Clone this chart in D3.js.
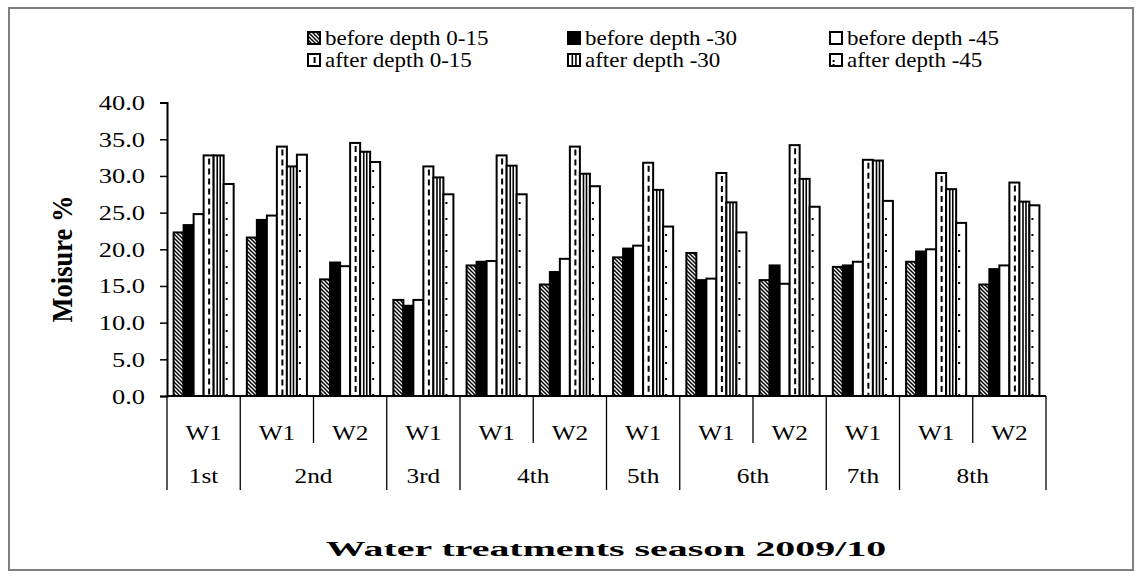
<!DOCTYPE html>
<html>
<head>
<meta charset="utf-8">
<script src="https://cdn.jsdelivr.net/npm/d3@7"></script>
<style>
  body { margin: 0; background: #fff; }
  text { font-family: "Liberation Serif", "Times New Roman", serif; fill: #000; }
</style>
</head>
<body>
<svg id="chart" width="1142" height="579"></svg>
<script>
// ---- data ----
const seasons = ["1st", "2nd", "3rd", "4th", "5th", "6th", "7th", "8th"];
const seasonTreatments = [["W1"], ["W1", "W2"], ["W1"], ["W1", "W2"], ["W1"], ["W1", "W2"], ["W1"], ["W1", "W2"]];
const seriesNames = ["before depth 0-15", "before depth -30", "before depth -45", "after depth 0-15", "after depth -30", "after depth -45"];
const beforeD15 = [22.3, 21.6, 15.9, 13.1, 17.8, 15.2, 18.9, 19.5, 15.8, 17.6, 18.3, 15.2];
const beforeD30 = [23.3, 24.0, 18.2, 12.3, 18.3, 16.9, 20.1, 15.8, 17.8, 17.8, 19.7, 17.3];
const beforeD45 = [24.8, 24.6, 17.7, 13.1, 18.4, 18.7, 20.5, 16.0, 15.3, 18.3, 20.0, 17.8];
const afterD15  = [32.8, 34.0, 34.5, 31.3, 32.8, 34.0, 31.8, 30.4, 34.2, 32.2, 30.4, 29.1];
const afterD30  = [32.8, 31.3, 33.3, 29.8, 31.4, 30.3, 28.1, 26.4, 29.6, 32.1, 28.2, 26.5];
const afterD45  = [28.9, 32.9, 31.9, 27.5, 27.5, 28.6, 23.1, 22.3, 25.8, 26.6, 23.6, 26.0];
const yTicks = [0, 5, 10, 15, 20, 25, 30, 35, 40];
const yTitle = "Moisure %";
const xTitle = "Water treatments season 2009/10";

const seriesValues = [beforeD15, beforeD30, beforeD45, afterD15, afterD30, afterD45];
const styles = ["hatch", "solid", "empty", "dash", "vstripe", "dots"];

// groups (season, treatment)
const groups = [];
seasons.forEach((s, si) => seasonTreatments[si].forEach(t => groups.push({season: s, si, treat: t})));
groups.forEach((g, i) => g.id = i);

// ---- layout ----
const svg = d3.select("#chart");
const pLeft = 167, pRight = 1046, pTop = 102.6, pBottom = 396;

const x0 = d3.scaleBand().domain(groups.map(g => g.id)).range([pLeft, pRight]).paddingInner(0.18).paddingOuter(0.09);
const x1 = d3.scaleBand().domain(d3.range(6)).range([0, x0.bandwidth()]);
const y = d3.scaleLinear().domain([0, 40]).range([pBottom, pTop]);

function stretchText(sel, xx, yy, str, opts) {
  const g = sel.append("g").attr("transform", `translate(${xx},${yy}) scale(${opts.sx || 1.15},1)`);
  const t = g.append("text")
    .attr("text-anchor", opts.anchor || "middle")
    .style("font-size", (opts.size || 20) + "px")
    .style("font-weight", opts.bold ? "bold" : "normal")
    .text(str);
  if (opts.fitWidth) {
    const w = t.node().getComputedTextLength();
    g.attr("transform", `translate(${xx},${yy}) scale(${opts.fitWidth / w},1)`);
  }
  return t;
}

// defs: hatch pattern
const defs = svg.append("defs");
const hp = defs.append("pattern").attr("id", "hatch").attr("patternUnits", "userSpaceOnUse")
  .attr("width", 4).attr("height", 4);
hp.append("rect").attr("width", 4).attr("height", 4).attr("fill", "#fff");
hp.append("path").attr("d", "M-1,-1 L5,5 M-1,3 L1,5 M3,-1 L5,1").attr("stroke", "#000").attr("stroke-width", 1.5);

// outer frame
svg.append("rect").attr("x", 9).attr("y", 8).attr("width", 1124).attr("height", 562)
  .attr("fill", "none").attr("stroke", "#7f7f7f").attr("stroke-width", 2);

// ---- bars ----
const barData = [];
groups.forEach((g, gi) => seriesValues.forEach((vals, si) => barData.push({gi, si, v: vals[gi]})));

function drawBar(sel, bx, by, bw, bh, style, dotPeriod) {
  const fill = style === "solid" ? "#000" : style === "hatch" ? "url(#hatch)" : "#fff";
  sel.append("rect").attr("x", bx).attr("y", by).attr("width", bw).attr("height", bh)
    .attr("fill", fill).attr("stroke", "none");
  if (style === "dash") {
    sel.append("line").attr("x1", bx + bw * 0.55).attr("x2", bx + bw * 0.55).attr("y1", by + 3).attr("y2", by + bh)
      .attr("stroke", "#000").attr("stroke-width", 2).attr("stroke-dasharray", "6,4");
  } else if (style === "vstripe") {
    [0.36, 0.66].forEach(f => sel.append("line").attr("x1", bx + bw * f).attr("x2", bx + bw * f)
      .attr("y1", by).attr("y2", by + bh).attr("stroke", "#000").attr("stroke-width", 1.6));
  } else if (style === "dots") {
    sel.append("line").attr("x1", bx + bw * 0.3).attr("x2", bx + bw * 0.3).attr("y1", by + bh).attr("y2", by + 4)
      .attr("stroke", "#000").attr("stroke-width", 2).attr("stroke-dasharray", `2,${dotPeriod - 2}`);
  }
  sel.append("rect").attr("x", bx).attr("y", by).attr("width", bw).attr("height", bh)
    .attr("fill", "none").attr("stroke", "#000").attr("stroke-width", 2);
}

const barLayer = svg.append("g");
barData.forEach(d => {
  const bx = x0(d.gi) + x1(d.si);
  const by = y(d.v);
  drawBar(barLayer, bx, by, x1.bandwidth(), pBottom - by, styles[d.si], 16);
});

// ---- y axis ----
const yAxisG = svg.append("g").attr("transform", `translate(${pLeft},0)`)
  .call(d3.axisLeft(y).tickValues(yTicks).tickSize(7).tickFormat(() => ""));
yAxisG.select(".domain").attr("stroke", "#000").attr("stroke-width", 2);
yAxisG.selectAll(".tick line").attr("stroke", "#000").attr("stroke-width", 1.5);
yTicks.forEach(t => stretchText(svg, 145, y(t) + 7.5, d3.format(".1f")(t), {anchor: "end", size: 22, sx: 1.2}));

// x baseline
svg.append("line").attr("x1", pLeft).attr("x2", pRight).attr("y1", pBottom).attr("y2", pBottom)
  .attr("stroke", "#000").attr("stroke-width", 2);

// hierarchical category axis
const step = x0.step();
for (let i = 0; i <= groups.length; i++) {
  const xx = pLeft + i * step;
  const seasonBoundary = i === 0 || i === groups.length || groups[i].si !== groups[i - 1].si;
  svg.append("line").attr("x1", xx).attr("x2", xx).attr("y1", pBottom).attr("y2", seasonBoundary ? 490 : 443)
    .attr("stroke", "#000").attr("stroke-width", 1.3);
}
groups.forEach(g => stretchText(svg, pLeft + (g.id + 0.5) * step, 440, g.treat, {size: 22, sx: 1.15}));
seasons.forEach((s, si) => {
  const ids = groups.filter(g => g.si === si).map(g => g.id);
  const cx = pLeft + (d3.min(ids) + d3.max(ids) + 1) / 2 * step;
  stretchText(svg, cx, 483, s, {size: 22, sx: 1.15});
});

// titles
stretchText(svg, 606, 556, xTitle, {size: 22, bold: true, fitWidth: 560});
svg.append("g").attr("transform", `translate(72,259) scale(1.1,1) rotate(-90)`)
  .append("text").attr("text-anchor", "middle").style("font-size", "26.5px").style("font-weight", "bold").text(yTitle);

// ---- legend ----
const legendPos = [[308, 38], [568, 38], [830, 38], [308, 60], [568, 60], [830, 60]];
legendPos.forEach(([lx, ly], si) => {
  const lg = svg.append("g");
  drawBar(lg, lx, ly - 6, 12, 12, styles[si], 4);
  stretchText(lg, lx + 17, ly + 7, seriesNames[si], {anchor: "start", size: 20, sx: 1.15});
});
</script>
</body>
</html>
